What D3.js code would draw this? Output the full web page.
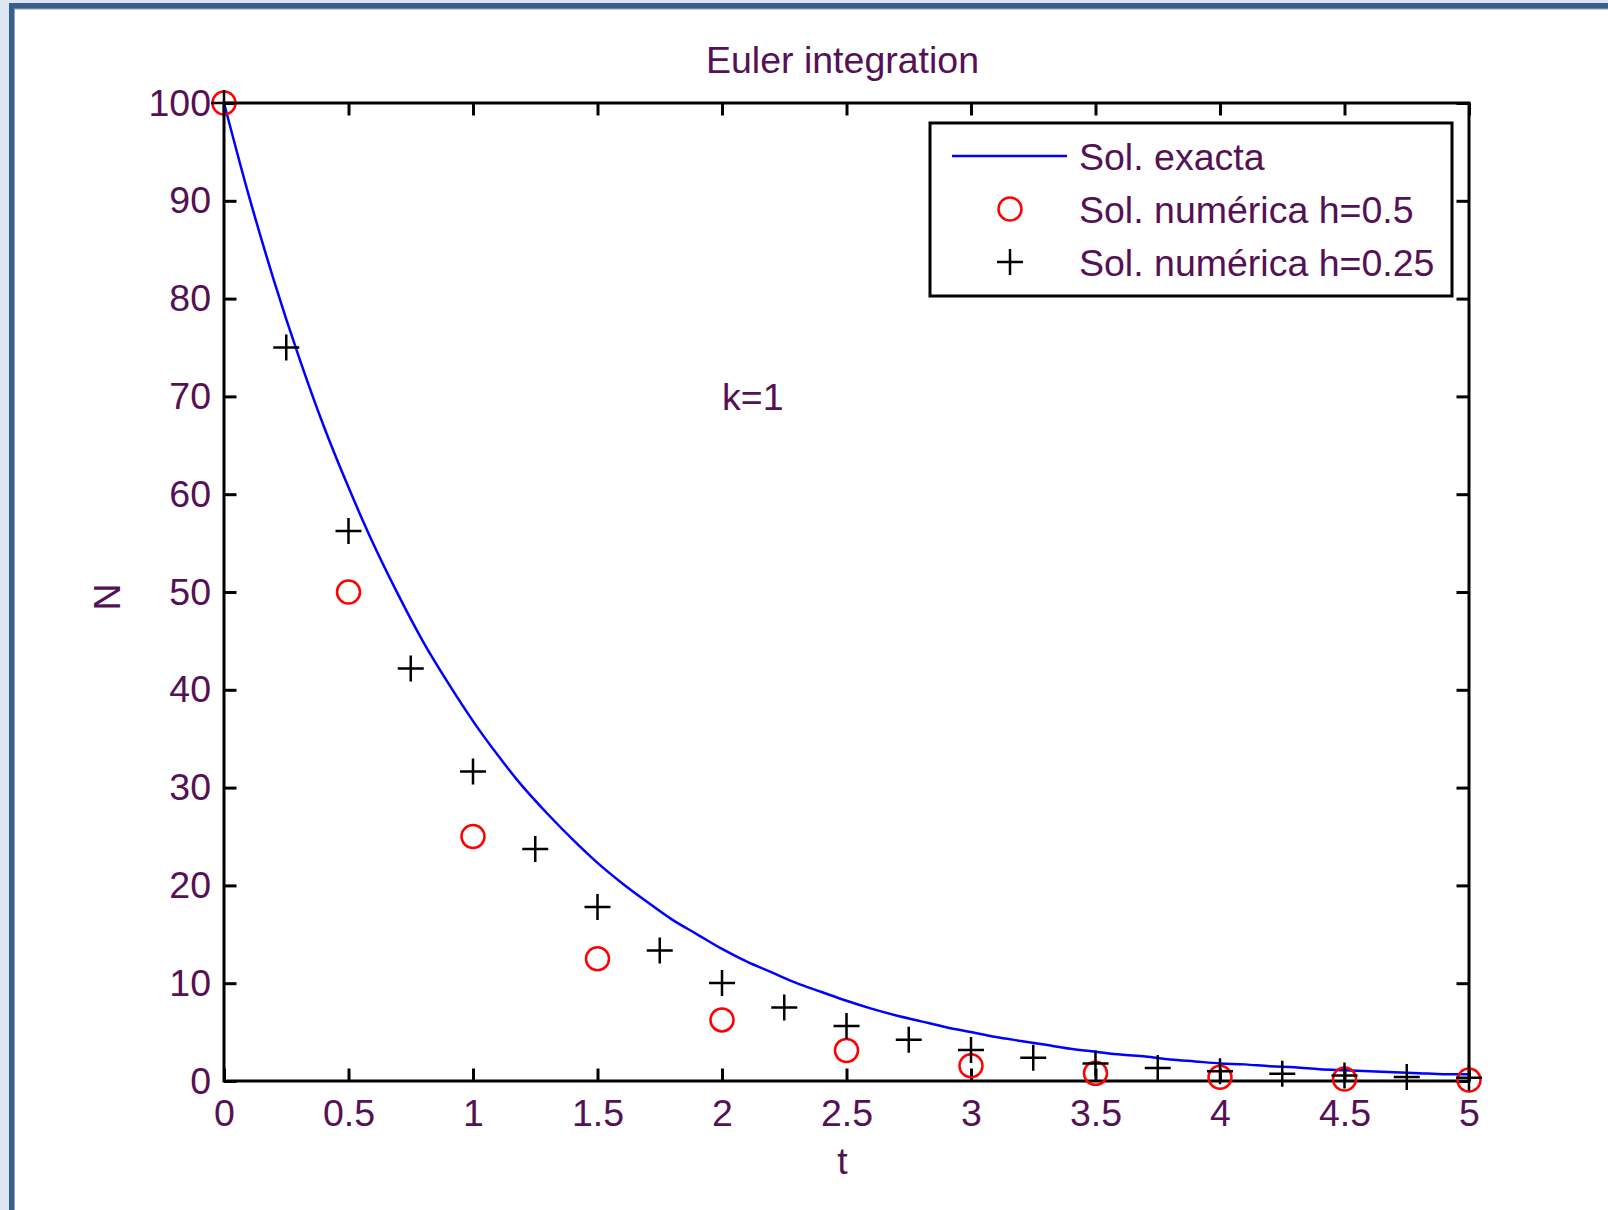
<!DOCTYPE html>
<html>
<head>
<meta charset="utf-8">
<script src="https://cdn.jsdelivr.net/npm/d3@7"></script>
<style>
  html, body { margin: 0; padding: 0; background: #dce6f2; }
  svg { display: block; }
  text { font-family: "Liberation Sans", Arial, Helvetica, sans-serif; }
</style>
</head>
<body>
<script>
// Exact solution N(t) sampled every 0.1 from t = 0 to 5
const exactT = [0,0.1,0.2,0.3,0.4,0.5,0.6,0.7,0.8,0.9,1,1.1,1.2,1.3,1.4,1.5,1.6,1.7,1.8,1.9,2,
  2.1,2.2,2.3,2.4,2.5,2.6,2.7,2.8,2.9,3,3.1,3.2,3.3,3.4,3.5,3.6,3.7,3.8,3.9,4,
  4.1,4.2,4.3,4.4,4.5,4.6,4.7,4.8,4.9,5];
const exactN = [100,90.5,81.9,74.1,67.0,60.7,54.9,49.7,44.9,40.7,36.8,33.3,30.1,27.3,24.7,22.3,20.2,18.3,16.5,15.0,13.5,
  12.2,11.1,10.0,9.1,8.2,7.4,6.7,6.1,5.5,5.0,4.5,4.1,3.7,3.3,3.0,2.7,2.5,2.2,2.0,1.8,
  1.7,1.5,1.4,1.2,1.1,1.0,0.9,0.8,0.7,0.7];

// Euler steps, h = 0.5
const h05T = [0,0.5,1,1.5,2,2.5,3,3.5,4,4.5,5];
const h05N = [100,50,25,12.5,6.25,3.13,1.56,0.78,0.39,0.2,0.1];

// Euler steps, h = 0.25
const h025T = [0,0.25,0.5,0.75,1,1.25,1.5,1.75,2,2.25,2.5,2.75,3,3.25,3.5,3.75,4,4.25,4.5,4.75,5];
const h025N = [100,75,56.25,42.19,31.64,23.73,17.8,13.35,10.01,7.51,5.63,4.22,3.17,2.38,1.78,1.34,1.0,0.75,0.56,0.42,0.32];

const xTicks = [0,0.5,1,1.5,2,2.5,3,3.5,4,4.5,5];
const yTicks = [0,10,20,30,40,50,60,70,80,90,100];

const legendLabels = ["Sol. exacta", "Sol. numérica h=0.5", "Sol. numérica h=0.25"];
const titleText = "Euler integration";
const noteText = "k=1";

(function draw() {
  const W = 1608, H = 1210;
  const textColor = "#551155";
  const fontSize = 37.5;

  const svg = d3.select("body").append("svg")
    .attr("width", W).attr("height", H);

  // window frame: light margin, dark blue edge, white figure area
  svg.append("rect").attr("x", 0).attr("y", 0).attr("width", W).attr("height", H).attr("fill", "#dce6f2");
  svg.append("rect").attr("x", 9).attr("y", 3).attr("width", W).attr("height", H).attr("fill", "#3a5d8c");
  svg.append("rect").attr("x", 14).attr("y", 8.5).attr("width", W).attr("height", H).attr("fill", "#8aa3c4");
  svg.append("rect").attr("x", 15).attr("y", 9.5).attr("width", W).attr("height", H).attr("fill", "#ffffff");

  const pLeft = 224, pRight = 1469, pTop = 103, pBottom = 1081;
  const x = d3.scaleLinear().domain([0, 5]).range([pLeft, pRight]);
  const y = d3.scaleLinear().domain([0, 100]).range([pBottom, pTop]);
  const tickLen = 12.5;

  const fmt = d => String(d);

  function styleAxis(g) {
    g.select(".domain").remove();
    g.selectAll(".tick line").attr("stroke", "#000").attr("stroke-width", 3);
    g.selectAll(".tick text")
      .attr("fill", textColor)
      .style("font-size", fontSize + "px")
      .style("font-family", '"Liberation Sans", Arial, sans-serif');
  }

  // bottom axis with labels, ticks pointing inward
  svg.append("g").attr("transform", `translate(0,${pBottom})`)
    .call(d3.axisBottom(x).tickValues(xTicks).tickFormat(fmt).tickSizeInner(-tickLen).tickSizeOuter(0).tickPadding(18))
    .call(styleAxis);
  // top axis ticks
  svg.append("g").attr("transform", `translate(0,${pTop})`)
    .call(d3.axisTop(x).tickValues(xTicks).tickFormat("").tickSizeInner(-tickLen).tickSizeOuter(0))
    .call(styleAxis);
  // left axis with labels
  svg.append("g").attr("transform", `translate(${pLeft},0)`)
    .call(d3.axisLeft(y).tickValues(yTicks).tickFormat(fmt).tickSizeInner(-tickLen).tickSizeOuter(0).tickPadding(13))
    .call(styleAxis);
  // right axis ticks
  svg.append("g").attr("transform", `translate(${pRight},0)`)
    .call(d3.axisRight(y).tickValues(yTicks).tickFormat("").tickSizeInner(-tickLen).tickSizeOuter(0))
    .call(styleAxis);

  // axes box
  svg.append("rect")
    .attr("x", pLeft).attr("y", pTop)
    .attr("width", pRight - pLeft).attr("height", pBottom - pTop)
    .attr("fill", "none").attr("stroke", "#000").attr("stroke-width", 3);

  // exact solution curve
  const line = d3.line()
    .x((d, i) => x(exactT[i]))
    .y(d => y(d))
    .curve(d3.curveMonotoneX);
  svg.append("path")
    .datum(exactN)
    .attr("d", line)
    .attr("fill", "none")
    .attr("stroke", "#0000ff")
    .attr("stroke-width", 2.5);

  // h = 0.5 markers (circles)
  const circR = 11.5;
  svg.append("g").selectAll("circle")
    .data(h05N)
    .join("circle")
    .attr("cx", (d, i) => x(h05T[i]))
    .attr("cy", d => y(d))
    .attr("r", circR)
    .attr("fill", "none")
    .attr("stroke", "#ff0000")
    .attr("stroke-width", 2.5);

  // h = 0.25 markers (plus signs)
  const plusHalf = 13;
  const plusPath = (cx, cy) => `M${cx - plusHalf},${cy}H${cx + plusHalf}M${cx},${cy - plusHalf}V${cy + plusHalf}`;
  svg.append("g").selectAll("path")
    .data(h025N)
    .join("path")
    .attr("d", (d, i) => plusPath(x(h025T[i]), y(d)))
    .attr("stroke", "#000")
    .attr("stroke-width", 2.5)
    .attr("fill", "none");

  // title
  svg.append("text")
    .attr("x", (pLeft + pRight) / 2 - 4).attr("y", 73)
    .attr("text-anchor", "middle")
    .attr("fill", textColor)
    .style("font-size", fontSize + "px")
    .text(titleText);

  // annotation
  svg.append("text")
    .attr("x", x(2)).attr("y", y(70))
    .attr("dy", "0.36em")
    .attr("fill", textColor)
    .style("font-size", fontSize + "px")
    .text(noteText);

  // axis labels
  svg.append("text")
    .attr("x", (pLeft + pRight) / 2 - 4).attr("y", 1174)
    .attr("text-anchor", "middle")
    .attr("fill", textColor)
    .style("font-size", fontSize + "px")
    .text("t");
  svg.append("text")
    .attr("transform", `translate(120,${(pTop + pBottom) / 2 + 5}) rotate(-90)`)
    .attr("text-anchor", "middle")
    .attr("fill", textColor)
    .style("font-size", fontSize + "px")
    .text("N");

  // legend
  const lg = svg.append("g");
  lg.append("rect")
    .attr("x", 930).attr("y", 123).attr("width", 522).attr("height", 173)
    .attr("fill", "#fff").attr("stroke", "#000").attr("stroke-width", 3);
  const rowY = [156, 209, 262];
  const textX = 1079, symX = 1010;
  lg.append("line")
    .attr("x1", 952).attr("x2", 1067).attr("y1", rowY[0]).attr("y2", rowY[0])
    .attr("stroke", "#0000ff").attr("stroke-width", 2.5);
  lg.append("circle")
    .attr("cx", symX).attr("cy", rowY[1]).attr("r", circR)
    .attr("fill", "none").attr("stroke", "#ff0000").attr("stroke-width", 2.5);
  lg.append("path")
    .attr("d", plusPath(symX, rowY[2]))
    .attr("stroke", "#000").attr("stroke-width", 2.5);
  lg.selectAll("text.lab")
    .data(legendLabels)
    .join("text")
    .attr("class", "lab")
    .attr("x", textX)
    .attr("y", (d, i) => rowY[i] + 14)
    .attr("fill", textColor)
    .style("font-size", fontSize + "px")
    .text(d => d);
})();
</script>
</body>
</html>
